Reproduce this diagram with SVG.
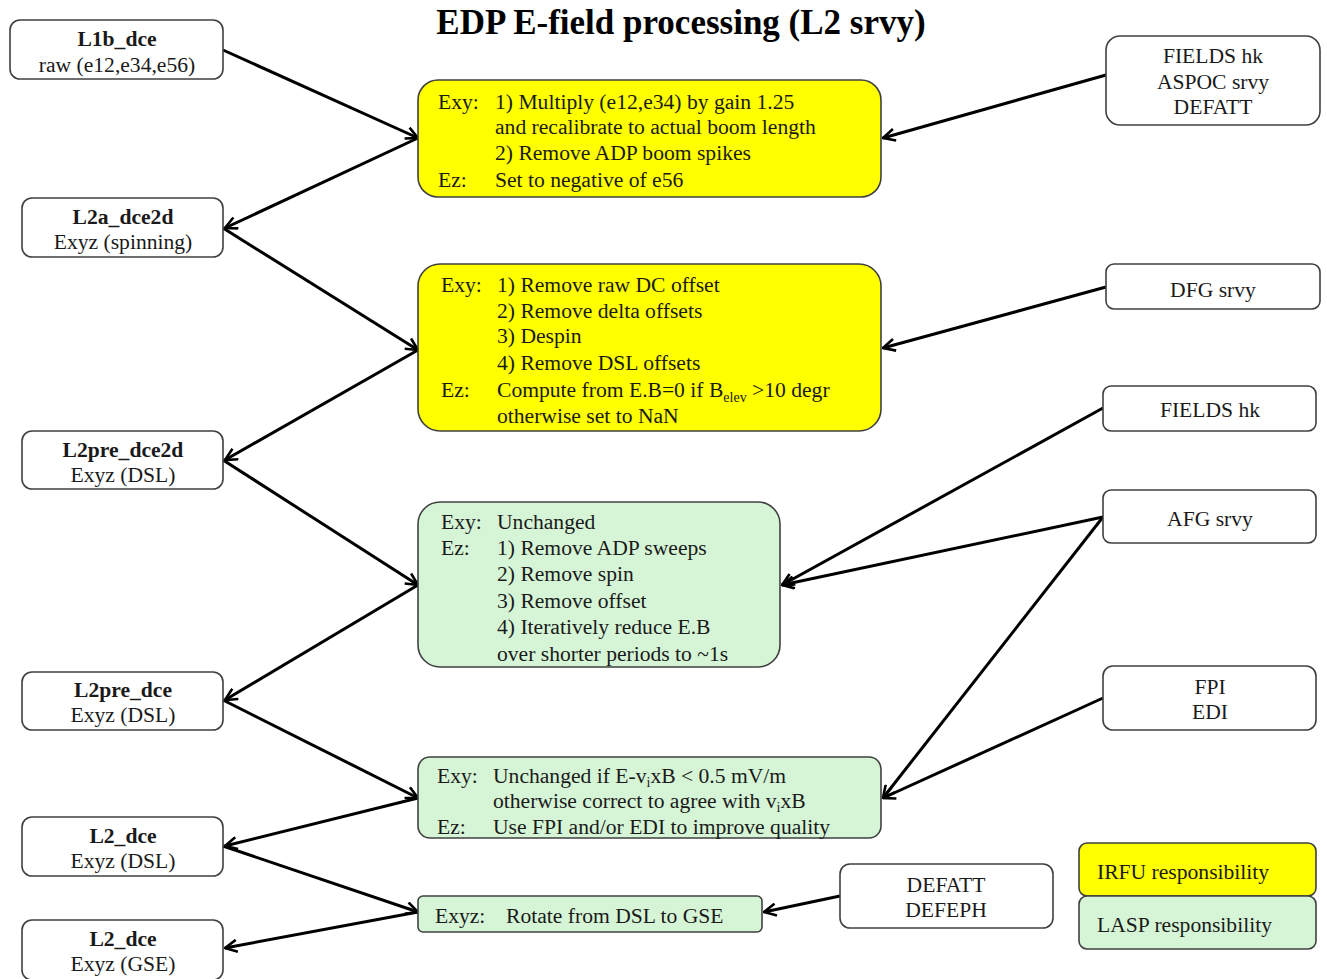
<svg xmlns="http://www.w3.org/2000/svg" width="1327" height="979" viewBox="0 0 1327 979">
<style>
text{font-family:"Liberation Serif","Times New Roman",serif;font-size:21.6px;fill:#1a1a1a}
.b{font-weight:bold}
.c{text-anchor:middle}
.box{fill:#fff;stroke:#404040;stroke-width:1.6}
.yel{fill:#ffff00;stroke:#404040;stroke-width:1.6}
.grn{fill:#d6f5d6;stroke:#404040;stroke-width:1.6}
.con{stroke:#000;stroke-width:3;fill:none;marker-end:url(#arr)}
.title{font-size:35px;font-weight:bold;fill:#000}
</style>
<defs>
<marker id="arr" viewBox="0 0 14 14" refX="13" refY="7" markerWidth="14" markerHeight="14" markerUnits="userSpaceOnUse" orient="auto">
<path d="M1,1 L13,7 L1,13" fill="none" stroke="#000" stroke-width="2.6"/>
</marker>
</defs>
<rect width="1327" height="979" fill="#fff"/>
<text class="title c" x="681" y="34">EDP E-field processing (L2 srvy)</text>

<g id="connectors">
<line class="con" x1="223" y1="50" x2="418" y2="138"/>
<line class="con" x1="418" y1="138" x2="225" y2="228"/>
<line class="con" x1="223" y1="228" x2="418" y2="350"/>
<line class="con" x1="418" y1="350" x2="225" y2="460"/>
<line class="con" x1="223" y1="460" x2="418" y2="585"/>
<line class="con" x1="418" y1="585" x2="225" y2="700"/>
<line class="con" x1="223" y1="700" x2="418" y2="798"/>
<line class="con" x1="418" y1="798" x2="225" y2="846"/>
<line class="con" x1="223" y1="846" x2="418" y2="912"/>
<line class="con" x1="418" y1="912" x2="225" y2="948"/>
<line class="con" x1="1106" y1="75" x2="883" y2="138"/>
<line class="con" x1="1106" y1="287" x2="883" y2="348"/>
<line class="con" x1="1103" y1="408" x2="782" y2="585"/>
<line class="con" x1="1103" y1="517" x2="782" y2="585"/>
<line class="con" x1="1103" y1="517" x2="883" y2="798"/>
<line class="con" x1="1103" y1="698" x2="883" y2="798"/>
<line class="con" x1="840" y1="896" x2="764" y2="912"/>
</g>

<g id="L1b_dce">
<rect class="box" x="10" y="20" width="213" height="59" rx="10"/>
<text class="b c" x="117" y="46">L1b_dce</text>
<text class="c" x="117" y="72">raw (e12,e34,e56)</text>
</g>
<g id="L2a_dce2d">
<rect class="box" x="22" y="198" width="201" height="59" rx="10"/>
<text class="b c" x="123" y="224">L2a_dce2d</text>
<text class="c" x="123" y="249">Exyz (spinning)</text>
</g>
<g id="L2pre_dce2d">
<rect class="box" x="22" y="431" width="201" height="58" rx="10"/>
<text class="b c" x="123" y="457">L2pre_dce2d</text>
<text class="c" x="123" y="482">Exyz (DSL)</text>
</g>
<g id="L2pre_dce">
<rect class="box" x="22" y="672" width="201" height="58" rx="10"/>
<text class="b c" x="123" y="697">L2pre_dce</text>
<text class="c" x="123" y="722">Exyz (DSL)</text>
</g>
<g id="L2_dce_DSL">
<rect class="box" x="22" y="817" width="201" height="59" rx="10"/>
<text class="b c" x="123" y="843">L2_dce</text>
<text class="c" x="123" y="868">Exyz (DSL)</text>
</g>
<g id="L2_dce_GSE">
<rect class="box" x="22" y="920" width="201" height="60" rx="10"/>
<text class="b c" x="123" y="946">L2_dce</text>
<text class="c" x="123" y="971">Exyz (GSE)</text>
</g>

<g id="step1">
<rect class="yel" x="418" y="80" width="463" height="117" rx="20"/>
<text x="438" y="109">Exy:</text>
<text x="495" y="109">1) Multiply (e12,e34) by gain 1.25</text>
<text x="495" y="134">and recalibrate to actual boom length</text>
<text x="495" y="160">2) Remove ADP boom spikes</text>
<text x="438" y="187">Ez:</text>
<text x="495" y="187">Set to negative of e56</text>
</g>
<g id="step2">
<rect class="yel" x="418" y="264" width="463" height="167" rx="22"/>
<text x="441" y="292">Exy:</text>
<text x="497" y="292">1) Remove raw DC offset</text>
<text x="497" y="318">2) Remove delta offsets</text>
<text x="497" y="343">3) Despin</text>
<text x="497" y="370">4) Remove DSL offsets</text>
<text x="441" y="397">Ez:</text>
<text x="497" y="397">Compute from E.B=0 if B<tspan font-size="14" dy="5">elev</tspan><tspan dy="-5"> &gt;10 degr</tspan></text>
<text x="497" y="423">otherwise set to NaN</text>
</g>
<g id="step3">
<rect class="grn" x="418" y="502" width="362" height="165" rx="22"/>
<text x="441" y="529">Exy:</text>
<text x="497" y="529">Unchanged</text>
<text x="441" y="555">Ez:</text>
<text x="497" y="555">1) Remove ADP sweeps</text>
<text x="497" y="581">2) Remove spin</text>
<text x="497" y="608">3) Remove offset</text>
<text x="497" y="634">4) Iteratively reduce E.B</text>
<text x="497" y="661">over shorter periods to ~1s</text>
</g>
<g id="step4">
<rect class="grn" x="418" y="757" width="463" height="81" rx="12"/>
<text x="437" y="783">Exy:</text>
<text x="493" y="783">Unchanged if E-v<tspan font-size="14" dy="4">i</tspan><tspan dy="-4">xB &lt; 0.5 mV/m</tspan></text>
<text x="493" y="808">otherwise correct to agree with v<tspan font-size="14" dy="4">i</tspan><tspan dy="-4">xB</tspan></text>
<text x="437" y="834">Ez:</text>
<text x="493" y="834">Use FPI and/or EDI to improve quality</text>
</g>
<g id="step5">
<rect class="grn" x="418" y="896" width="344" height="36" rx="5"/>
<text x="435" y="923">Exyz:</text>
<text x="506" y="923">Rotate from DSL to GSE</text>
</g>

<g id="in_fields_aspoc">
<rect class="box" x="1106" y="36" width="214" height="89" rx="14"/>
<text class="c" x="1213" y="63">FIELDS hk</text>
<text class="c" x="1213" y="89">ASPOC srvy</text>
<text class="c" x="1213" y="114">DEFATT</text>
</g>
<g id="in_dfg">
<rect class="box" x="1106" y="264" width="214" height="45" rx="8"/>
<text class="c" x="1213" y="297">DFG srvy</text>
</g>
<g id="in_fields">
<rect class="box" x="1103" y="386" width="213" height="45" rx="8"/>
<text class="c" x="1210" y="417">FIELDS hk</text>
</g>
<g id="in_afg">
<rect class="box" x="1103" y="490" width="213" height="53" rx="8"/>
<text class="c" x="1210" y="526">AFG srvy</text>
</g>
<g id="in_fpi_edi">
<rect class="box" x="1103" y="666" width="213" height="64" rx="10"/>
<text class="c" x="1210" y="694">FPI</text>
<text class="c" x="1210" y="719">EDI</text>
</g>
<g id="in_defatt_defeph">
<rect class="box" x="840" y="864" width="213" height="64" rx="10"/>
<text class="c" x="946" y="892">DEFATT</text>
<text class="c" x="946" y="917">DEFEPH</text>
</g>

<g id="legend_irfu">
<rect class="yel" x="1079" y="843" width="237" height="53" rx="8"/>
<text x="1097" y="879">IRFU responsibility</text>
</g>
<g id="legend_lasp">
<rect class="grn" x="1079" y="896" width="237" height="53" rx="8"/>
<text x="1097" y="932">LASP responsibility</text>
</g>
</svg>
